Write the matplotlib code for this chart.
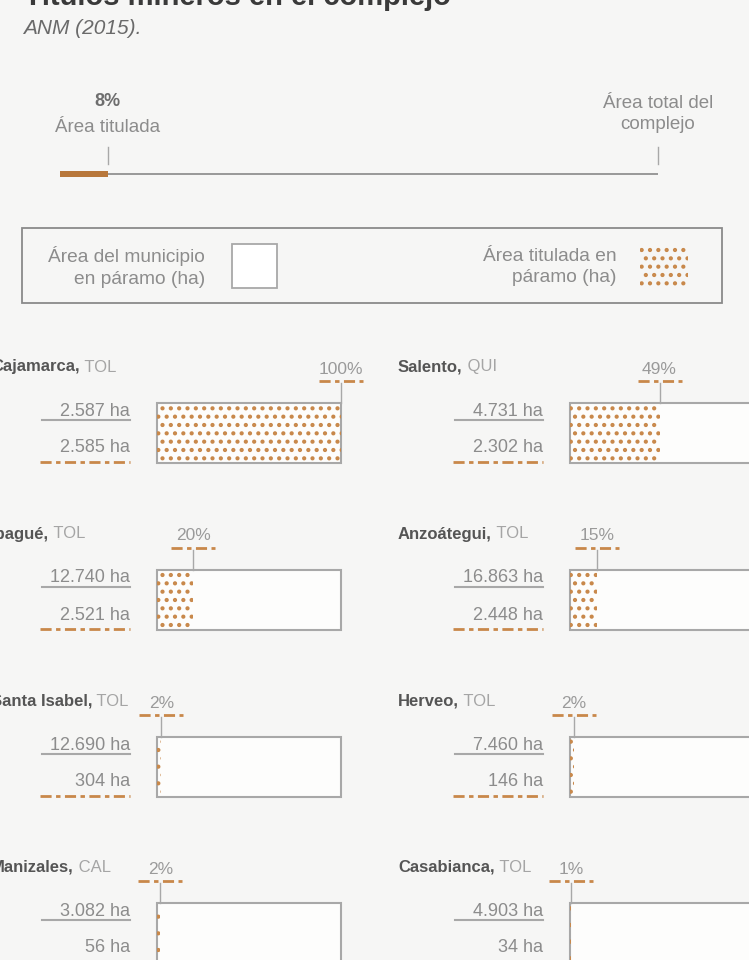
import matplotlib
matplotlib.use("Agg")
import matplotlib.pyplot as plt
from matplotlib.patches import Rectangle

# ── Data ───────────────────────────────────────────────────────────────────────
MUNICIPIOS = ["Cajamarca", "Salento", "Ibagué", "Anzoátegui",
              "Santa Isabel", "Herveo", "Manizales", "Casabianca"]
DEPTOS = ["TOL", "QUI", "TOL", "TOL", "TOL", "TOL", "CAL", "TOL"]
AREA_PARAMO = [2587, 4731, 12740, 16863, 12690, 7460, 3082, 4903]      # ha
AREA_TITULADA = [2585, 2302, 2521, 2448, 304, 146, 56, 34]             # ha
PCT_COMPLEJO = 8  # % del área total del complejo titulada

# ── Style ──────────────────────────────────────────────────────────────────────
W, H = 749, 960
BG = "#f6f6f5"
ORANGE = "#b8773a"
DOTS = "#c8884a"
GRAY_TXT = "#8c8c8c"
GRAY_LINE = "#a8a8a8"
SANS = ["Liberation Sans", "DejaVu Sans"]
DASH = (0, (4, 1.6, 1.6, 1.6))

plt.rcParams["hatch.linewidth"] = 1.8


def fig_rect(x, y, w, h):
    """pixel box (top-left origin) -> figure fraction rect"""
    return [x / W, 1 - (y + h) / H, w / W, h / H]


def yfrac(y, top, h):
    return (top + h - y) / h


def fmt_ha(v):
    return f"{v:,}".replace(",", ".") + " ha"


fig = plt.figure(figsize=(W / 100, H / 100), dpi=100, facecolor=BG)
bg = fig.add_axes([0, 0, 1, 1], zorder=0)
bg.set_xlim(0, W)
bg.set_ylim(H, 0)
bg.axis("off")

# title (cropped at the top, as in the source page) and source
bg.text(24, 5, "Títulos mineros en el complejo", fontsize=21, fontweight="bold",
        color="#3a3a3a", ha="left", va="baseline", family=SANS)
bg.text(23, 28, "ANM (2015).", fontsize=15, style="italic", color="#6a6a6a",
        ha="left", va="center", family=SANS)

# ── Top bar: share of the complex ─────────────────────────────────────────────
tx, ty, tw, th = 60, 168, 598, 12
ax_top = fig.add_axes(fig_rect(tx, ty, tw, th), zorder=2)
ax_top.set_xlim(0, 100)
ax_top.set_ylim(0, 1)
ax_top.axis("off")
ax_top.patch.set_alpha(0)
ax_top.barh(0.5, 100, height=0.12, color="#9a9a9a", clip_on=False)
ax_top.barh(0.5, PCT_COMPLEJO, height=0.5, color=ORANGE, clip_on=False)
xt = ax_top.get_xaxis_transform()

for xv in (PCT_COMPLEJO, 100):
    ax_top.plot([xv, xv], [yfrac(164, ty, th), yfrac(147, ty, th)], transform=xt,
                color=GRAY_LINE, lw=1, clip_on=False)
ax_top.text(PCT_COMPLEJO, yfrac(101, ty, th), f"{PCT_COMPLEJO}%", transform=xt,
            ha="center", va="center", fontsize=13, fontweight="bold", color="#6e6e6e",
            family=SANS)
ax_top.text(PCT_COMPLEJO, yfrac(127, ty, th), "Área titulada", transform=xt,
            ha="center", va="center", fontsize=13.5, color=GRAY_TXT, family=SANS)
ax_top.text(100, yfrac(114, ty, th), "Área total del\ncomplejo", transform=xt,
            ha="center", va="center", fontsize=13.5, color=GRAY_TXT, family=SANS,
            linespacing=1.3)

# ── Legend box ────────────────────────────────────────────────────────────────
bg.add_patch(Rectangle((22, 228), 700, 75, fill=False, edgecolor="#8a8a8a", lw=1.3))
bg.text(205, 267, "Área del municipio\nen páramo (ha)", ha="right", va="center",
        fontsize=13.8, color=GRAY_TXT, family=SANS, linespacing=1.35)
bg.add_patch(Rectangle((232, 244), 45, 44, facecolor="white", edgecolor=GRAY_LINE, lw=1.3))
bg.text(617, 267, "Área titulada en\npáramo (ha)", ha="right", va="center",
        fontsize=13.8, color=GRAY_TXT, family=SANS, linespacing=1.35)
bg.add_patch(Rectangle((640, 245), 48, 44, facecolor="none", edgecolor=DOTS,
                       hatch="..", lw=0))

# ── Small multiples ───────────────────────────────────────────────────────────
COL_X = [157, 570]
NAME_X = [-9, 398]
ROW_Y = [403, 570, 737, 903]
BOX_W, BOX_H = 184, 60

for i, (name, dep, total, tit) in enumerate(zip(MUNICIPIOS, DEPTOS, AREA_PARAMO, AREA_TITULADA)):
    r, c = divmod(i, 2)
    x0, y0 = COL_X[c], ROW_Y[r]
    pct = round(100 * tit / total)

    # name + department
    t = bg.text(NAME_X[c], y0 - 36, f"{name},", fontsize=12, fontweight="bold",
                color="#555555", ha="left", va="center", family=SANS)
    bg.annotate(f" {dep}", xy=(1, 0), xycoords=t, ha="left", va="bottom",
                fontsize=12, color="#a5a5a5", family=SANS)

    # values on the left
    xr = x0 - 27
    bg.text(xr, y0 + 8, fmt_ha(total), ha="right", va="center", fontsize=13,
            color=GRAY_TXT, family=SANS)
    bg.plot([x0 - 115, xr], [y0 + 17, y0 + 17], color=GRAY_LINE, lw=1.5)
    bg.text(xr, y0 + 45, fmt_ha(tit), ha="right", va="center", fontsize=13,
            color=GRAY_TXT, family=SANS)
    bg.plot([x0 - 117, xr], [y0 + 59, y0 + 59], color=DOTS, lw=2, ls=DASH)

    # bar panel
    ax = fig.add_axes(fig_rect(x0, y0, BOX_W, BOX_H), zorder=2)
    ax.set_xlim(0, total)
    ax.set_ylim(0, 1)
    ax.axis("off")
    ax.patch.set_alpha(0)
    ax.barh(0.5, total, height=1, facecolor="#fdfdfc", edgecolor=GRAY_LINE,
            lw=1.5, clip_on=False)
    ax.barh(0.5, tit, height=1, facecolor="none", edgecolor=DOTS, hatch="..",
            lw=0, clip_on=False)

    xa = ax.get_xaxis_transform()
    ax.plot([tit, tit], [1, 1 + 20 / BOX_H], transform=xa, color=GRAY_LINE,
            lw=1, clip_on=False)
    ax.text(tit, 1 + 34 / BOX_H, f"{pct}%", transform=xa, ha="center", va="center",
            fontsize=12.5, color="#9a9a9a", family=SANS, clip_on=False)
    half = total * 22 / BOX_W
    ax.plot([tit - half, tit + half], [1 + 22 / BOX_H] * 2, transform=xa,
            color=DOTS, lw=2, ls=DASH, clip_on=False)

fig.savefig("out.png", dpi=100, facecolor=BG)
